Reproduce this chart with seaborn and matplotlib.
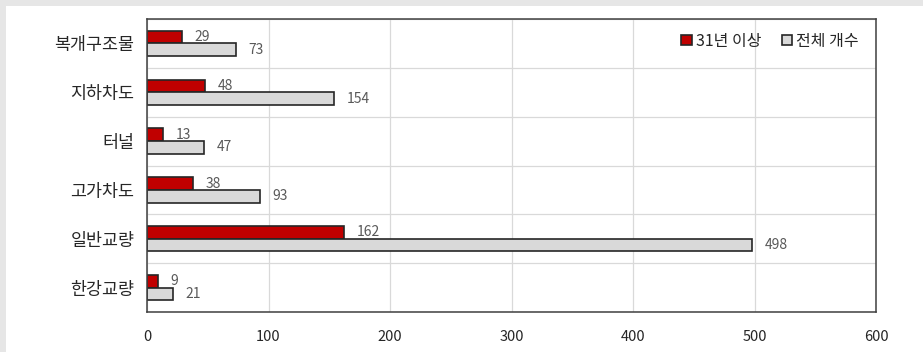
import matplotlib
matplotlib.use("Agg")
import matplotlib.pyplot as plt
import seaborn as sns
import pandas as pd
import numpy as np
from matplotlib.patches import Rectangle

categories = ["복개구조물", "지하차도", "터널", "고가차도", "일반교량", "한강교량"]
old31 = [29, 48, 13, 38, 162, 9]
total = [73, 154, 47, 93, 498, 21]
series_names = ["31년 이상", "전체 개수"]
xticks = [0, 100, 200, 300, 400, 500, 600]

sns.set_theme(style="white")
plt.rcParams['font.family'] = ['Noto Sans CJK KR', 'DejaVu Sans']

df = pd.DataFrame({
    "category": categories * 2,
    "value": old31 + total,
    "series": [series_names[0]] * len(categories) + [series_names[1]] * len(categories),
})

fig = plt.figure(figsize=(9.23, 3.52), dpi=100)
fig.patch.set_facecolor("#e6e6e6")
fig.patches.append(Rectangle((6/923, 0), 1 - 6/923, 1 - 6/352, transform=fig.transFigure,
                             facecolor="white", edgecolor="none", zorder=-1))
ax = fig.add_axes([147/923, (352-312)/352, 729/923, 293/352])

palette = {series_names[0]: "#c00000", series_names[1]: "#d9d9d9"}
sns.barplot(data=df, y="category", x="value", hue="series", order=categories,
            hue_order=series_names, palette=palette, orient="h", width=0.52,
            edgecolor="#262626", linewidth=1.2, saturation=1, ax=ax, legend=True)

for cont in ax.containers:
    ax.bar_label(cont, padding=9, color="#595959", fontsize=10)

ax.set_xlim(0, 600)
ax.set_xticks(xticks)
ax.set_xticklabels([str(t) for t in xticks], fontsize=10.5, color="#262626")
ax.set_ylim(len(categories) - 0.5, -0.5)
ax.tick_params(axis="x", length=0, pad=13)
ax.tick_params(axis="y", length=0, pad=9, labelsize=12.5, labelcolor="#262626")
ax.set_yticks(np.arange(len(categories)), labels=categories)
ax.set_yticks(np.arange(len(categories) + 1) - 0.5, minor=True)
ax.tick_params(axis="y", which="minor", length=0)
ax.grid(axis="x", color="#d9d9d9", linewidth=0.9)
ax.grid(axis="y", which="minor", color="#d9d9d9", linewidth=0.9)
ax.set_axisbelow(True)
ax.set_xlabel("")
ax.set_ylabel("")
for s in ax.spines.values():
    s.set_color("#404040")
    s.set_linewidth(1.1)

leg = ax.legend(loc="upper right", ncol=2, frameon=False, fontsize=11.5,
                handlelength=0.65, handleheight=0.65, handletextpad=0.25,
                columnspacing=1.3, bbox_to_anchor=(0.995, 1.0), borderaxespad=0.45)

fig.savefig("out.png", dpi=100, facecolor=fig.get_facecolor())
